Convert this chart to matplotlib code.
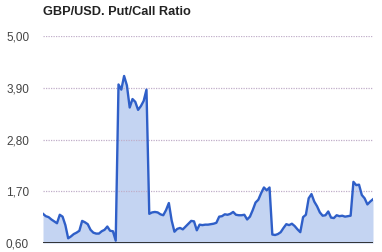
import matplotlib
matplotlib.use("Agg")
import matplotlib.pyplot as plt
import numpy as np

title = "GBP/USD. Put/Call Ratio"
ytick_values = [0.60, 1.70, 2.80, 3.90, 5.00]
ytick_labels = ["0,60", "1,70", "2,80", "3,90", "5,00"]

ratio = [
    1.22, 1.17, 1.15, 1.10, 1.06, 1.02, 1.20, 1.16, 0.98, 0.70,
    0.74, 0.79, 0.82, 0.86, 1.07, 1.04, 1.00, 0.88, 0.82, 0.80,
    0.80, 0.85, 0.88, 0.95, 0.86, 0.85, 0.65, 3.97, 3.86, 4.15,
    3.95, 3.48, 3.66, 3.60, 3.43, 3.51, 3.62, 3.86, 1.22, 1.25,
    1.26, 1.25, 1.21, 1.19, 1.30, 1.45, 1.08, 0.84, 0.90, 0.92,
    0.89, 0.95, 1.01, 1.07, 1.06, 0.87, 0.99, 0.98, 0.99, 0.99,
    1.00, 1.01, 1.03, 1.16, 1.17, 1.21, 1.20, 1.22, 1.26, 1.20,
    1.19, 1.19, 1.20, 1.10, 1.16, 1.30, 1.46, 1.52, 1.66, 1.78,
    1.72, 1.78, 0.78, 0.77, 0.79, 0.83, 0.92, 1.00, 0.98, 1.01,
    0.96, 0.89, 0.83, 1.15, 1.20, 1.55, 1.64, 1.48, 1.38, 1.25,
    1.18, 1.19, 1.27, 1.14, 1.13, 1.19, 1.17, 1.18, 1.16, 1.17,
    1.18, 1.90, 1.83, 1.84, 1.62, 1.55, 1.42, 1.48, 1.53,
]

W, H = 382, 252
fig = plt.figure(figsize=(W / 100, H / 100), dpi=100)
ax = fig.add_axes([43 / W, 1 - 243 / H, (373 - 43) / W, (243 - 36) / H])

x = np.arange(len(ratio))
ymin, ymax = 0.60, 5.00
ax.fill_between(x, ymin, ratio, color="#c4d4f2", zorder=1, linewidth=0)
ax.plot(x, ratio, color="#2f5fc8", linewidth=1.7, zorder=3, solid_joinstyle="round")

for v in ytick_values[1:]:
    ax.axhline(v, color="#c0aec9", linewidth=0.9, linestyle=(0, (1, 1)), zorder=2)
ax.axhline(ymin, color="#222222", linewidth=2.0, zorder=4)

ax.set_xlim(0, len(ratio) - 1)
ax.set_ylim(ymin, ymax)
ax.set_xticks([])
ax.set_yticks(ytick_values)
ax.set_yticklabels(ytick_labels)
ax.tick_params(axis="y", length=0, pad=10, labelsize=8.5, labelcolor="#444444")
for lab in ax.get_yticklabels():
    lab.set_fontfamily("Liberation Sans")
for s in ax.spines.values():
    s.set_visible(False)
ax.set_facecolor("none")

fig.text(43 / W, 1 - 12 / H, title, fontsize=9.2, fontweight="bold",
         family="Liberation Sans", color="#222222", ha="left", va="center")

fig.savefig("out.png", dpi=100)
